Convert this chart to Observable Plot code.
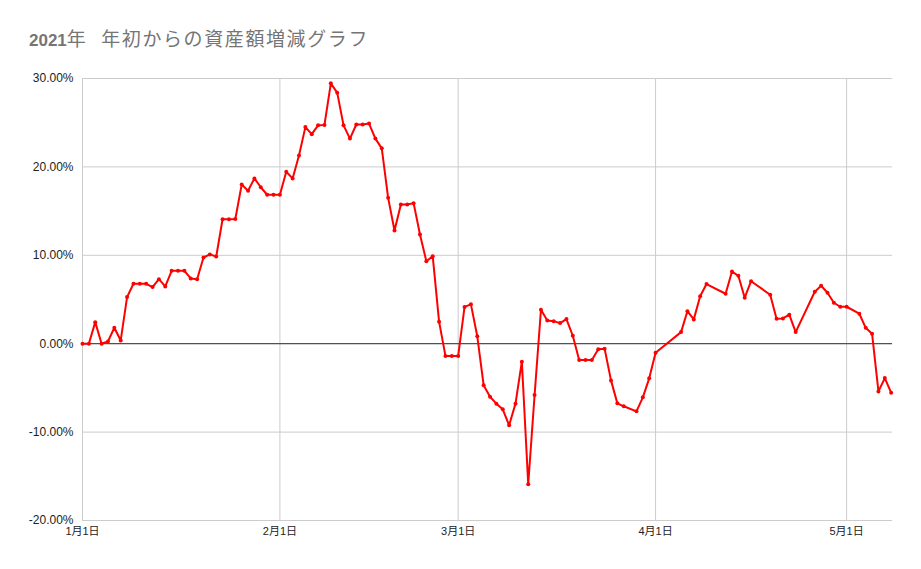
<!DOCTYPE html>
<html lang="ja">
<head>
<meta charset="utf-8">
<script src="https://cdn.jsdelivr.net/npm/d3@7"></script>
<script src="https://cdn.jsdelivr.net/npm/@observablehq/plot@0.6"></script>
<style>
  html, body { margin: 0; padding: 0; background: #fff; overflow: hidden; }
  body { width: 921px; height: 569px; font-family: "Liberation Sans", Arial, "Noto Sans CJK JP", sans-serif; }
  #title { height: 60px; box-sizing: border-box; padding: 29px 0 0 29px; font-size: 17px; line-height: 22px; color: #757575; white-space: pre; }
  #title b { font-weight: bold; }
  #title .jp { font-size: 19px; letter-spacing: 1.6px; }
  #chart svg { display: block; }
</style>
</head>
<body>
<div id="title"><b>2021</b><span class="jp">年  年初からの資産額増減グラフ</span></div>
<div id="chart"></div>
<script>
const dates = [
  "2021-01-01","2021-01-02","2021-01-03","2021-01-04","2021-01-05","2021-01-06","2021-01-07","2021-01-08",
  "2021-01-09","2021-01-10","2021-01-11","2021-01-12","2021-01-13","2021-01-14","2021-01-15","2021-01-16",
  "2021-01-17","2021-01-18","2021-01-19","2021-01-20","2021-01-21","2021-01-22","2021-01-23","2021-01-24",
  "2021-01-25","2021-01-26","2021-01-27","2021-01-28","2021-01-29","2021-01-30","2021-01-31",
  "2021-02-01","2021-02-02","2021-02-03","2021-02-04","2021-02-05","2021-02-06","2021-02-07","2021-02-08",
  "2021-02-09","2021-02-10","2021-02-11","2021-02-12","2021-02-13","2021-02-14","2021-02-15","2021-02-16",
  "2021-02-17","2021-02-18","2021-02-19","2021-02-20","2021-02-21","2021-02-22","2021-02-23","2021-02-24",
  "2021-02-25","2021-02-26","2021-02-27","2021-02-28",
  "2021-03-01","2021-03-02","2021-03-03","2021-03-04","2021-03-05","2021-03-06","2021-03-07","2021-03-08",
  "2021-03-09","2021-03-10","2021-03-11","2021-03-12","2021-03-13","2021-03-14","2021-03-15","2021-03-16",
  "2021-03-17","2021-03-18","2021-03-19","2021-03-20","2021-03-21","2021-03-22","2021-03-23","2021-03-24",
  "2021-03-25","2021-03-26","2021-03-27","2021-03-29","2021-03-30","2021-03-31",
  "2021-04-01","2021-04-05","2021-04-06","2021-04-07","2021-04-08","2021-04-09","2021-04-12","2021-04-13",
  "2021-04-14","2021-04-15","2021-04-16","2021-04-19","2021-04-20","2021-04-21","2021-04-22","2021-04-23",
  "2021-04-26","2021-04-27","2021-04-28","2021-04-29","2021-04-30",
  "2021-05-01","2021-05-03","2021-05-04","2021-05-05","2021-05-06","2021-05-07","2021-05-08"
];
const values = [
  0, 0, 2.44, 0, 0.26, 1.8, 0.37, 5.27,
  6.78, 6.78, 6.78, 6.4, 7.3, 6.48, 8.25, 8.25,
  8.25, 7.38, 7.3, 9.75, 10.1, 9.86, 14.08, 14.08,
  14.1, 18.0, 17.3, 18.7, 17.7, 16.85, 16.85,
  16.85, 19.45, 18.7, 21.3, 24.5, 23.7, 24.7, 24.75,
  29.45, 28.4, 24.7, 23.2, 24.8, 24.8, 24.9, 23.2,
  22.1, 16.5, 12.8, 15.74, 15.74, 15.9, 12.35, 9.33,
  9.9, 2.49, -1.38, -1.38,
  -1.38, 4.16, 4.45, 0.84, -4.7, -6.0, -6.78, -7.42,
  -9.23, -6.78, -2.03, -15.9, -5.8, 3.84, 2.63, 2.55,
  2.33, 2.78, 0.9, -1.85, -1.85, -1.85, -0.64, -0.57,
  -4.15, -6.75, -7.08, -7.65, -6.07, -3.92,
  -1.02, 1.31, 3.68, 2.75, 5.36, 6.75, 5.65, 8.17,
  7.68, 5.2, 7.07, 5.54, 2.82, 2.86, 3.28, 1.31,
  5.88, 6.55, 5.76, 4.63, 4.18,
  4.18, 3.39, 1.8, 1.13, -5.4, -3.89, -5.54
];
const yTicks = [-20, -10, 0, 10, 20, 30];
const xTicks = ["2021-01-01", "2021-02-01", "2021-03-01", "2021-04-01", "2021-05-01"];
const xTickLabels = ["1月1日", "2月1日", "3月1日", "4月1日", "5月1日"];

const data = dates.map((d, i) => ({date: new Date(d + "T00:00:00Z"), value: values[i]}));
const xTickDates = xTicks.map(d => new Date(d + "T00:00:00Z"));
const xLabelOf = new Map(xTickDates.map((d, i) => [+d, xTickLabels[i]]));
const xDomain = [new Date("2021-01-01T00:00:00Z"), new Date("2021-05-08T05:00:00Z")];

const chart = Plot.plot({
  width: 921,
  height: 509,
  marginTop: 18,
  marginBottom: 49,
  marginLeft: 82,
  marginRight: 29,
  style: {fontFamily: "'Liberation Sans', Arial, 'Noto Sans CJK JP', sans-serif", fontSize: "11px", color: "#222", background: "#fff"},
  x: {type: "utc", domain: xDomain},
  y: {domain: [-20, 30]},
  marks: [
    Plot.gridY(yTicks, {stroke: "#cccccc", strokeOpacity: 1, strokeWidth: 1}),
    Plot.gridX(xTickDates, {stroke: "#cccccc", strokeOpacity: 1, strokeWidth: 1}),
    Plot.ruleY([0], {stroke: "#333333", strokeWidth: 1}),
    Plot.lineY(data, {x: "date", y: "value", stroke: "#ff0000", strokeWidth: 2, strokeLinejoin: "round"}),
    Plot.dot(data, {x: "date", y: "value", r: 2, fill: "#ff0000", stroke: "none"}),
    Plot.axisY(yTicks, {tickSize: 0, tickPadding: 9, tickFormat: d => d.toFixed(2) + "%", fill: "#222", fontSize: 12, label: null}),
    Plot.axisX(xTickDates, {tickSize: 0, tickPadding: 7, tickFormat: d => xLabelOf.get(+d), fill: "#222", fontSize: 11, label: null})
  ]
});
document.getElementById("chart").appendChild(chart);
</script>
</body>
</html>
